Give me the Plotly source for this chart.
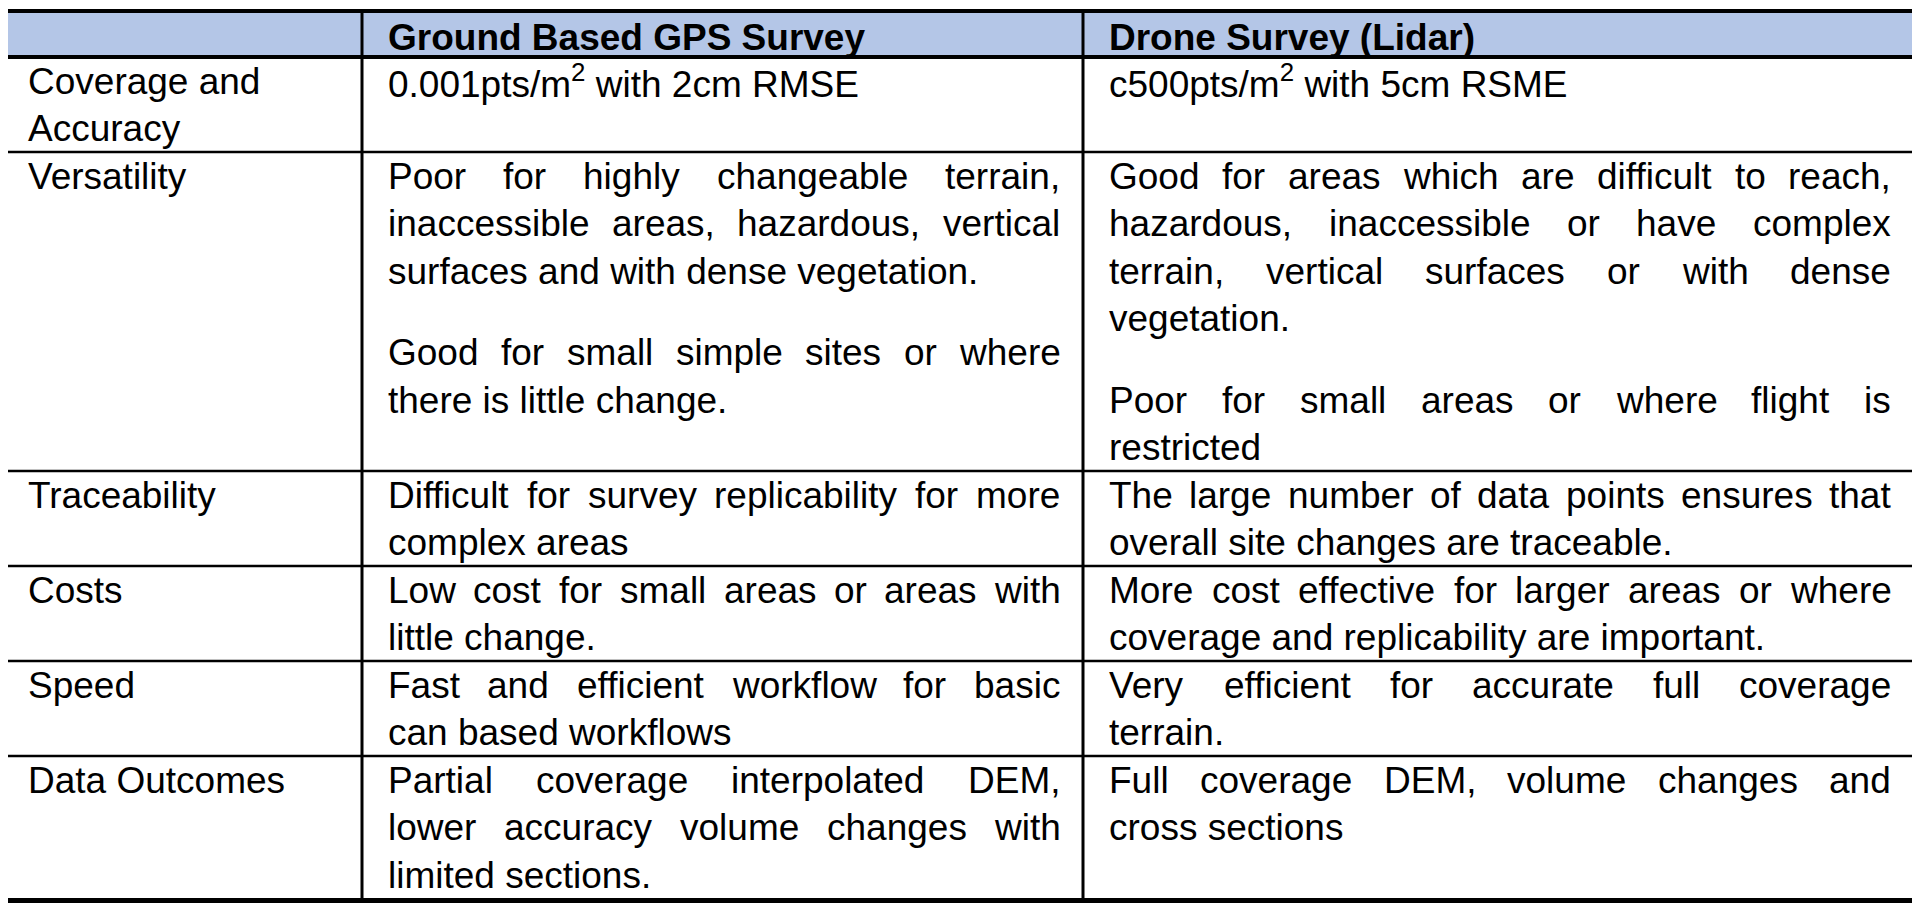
import plotly.graph_objects as go

HEADERS = ["", "Ground Based GPS Survey", "Drone Survey (Lidar)"]

CRITERIA = [
    [["Coverage and", "Accuracy"]],
    [["Versatility"]],
    [["Traceability"]],
    [["Costs"]],
    [["Speed"]],
    [["Data Outcomes"]],
]

GPS_SURVEY = [
    [["0.001pts/m<sup>2</sup> with 2cm RMSE"]],
    [["Poor for highly changeable terrain,",
      "inaccessible areas, hazardous, vertical",
      "surfaces and with dense vegetation."],
     ["Good for small simple sites or where",
      "there is little change."]],
    [["Difficult for survey replicability for more",
      "complex areas"]],
    [["Low cost for small areas or areas with",
      "little change."]],
    [["Fast and efficient workflow for basic",
      "can based workflows"]],
    [["Partial coverage interpolated DEM,",
      "lower accuracy volume changes with",
      "limited sections."]],
]

DRONE_SURVEY = [
    [["c500pts/m<sup>2</sup> with 5cm RSME"]],
    [["Good for areas which are difficult to reach,",
      "hazardous, inaccessible or have complex",
      "terrain, vertical surfaces or with dense",
      "vegetation."],
     ["Poor for small areas or where flight is",
      "restricted"]],
    [["The large number of data points ensures that",
      "overall site changes are traceable."]],
    [["More cost effective for larger areas or where",
      "coverage and replicability are important."]],
    [["Very efficient for accurate full coverage",
      "terrain."]],
    [["Full coverage DEM, volume changes and",
      "cross sections"]],
]

# advance widths of Arial / Liberation Sans, 1/1000 em
ARIAL = {' ': 278, ',': 278, '.': 278, '/': 278, '(': 333, ')': 333, '-': 333,
         'A': 667, 'B': 667, 'C': 722, 'D': 722, 'E': 667, 'F': 611, 'G': 778,
         'H': 722, 'I': 278, 'J': 500, 'K': 667, 'L': 556, 'M': 833, 'N': 722,
         'O': 778, 'P': 667, 'Q': 778, 'R': 722, 'S': 667, 'T': 611, 'U': 722,
         'V': 667, 'W': 944, 'X': 667, 'Y': 667, 'Z': 611,
         'a': 556, 'b': 556, 'c': 500, 'd': 556, 'e': 556, 'f': 278, 'g': 556,
         'h': 556, 'i': 222, 'j': 222, 'k': 500, 'l': 222, 'm': 833, 'n': 556,
         'o': 556, 'p': 556, 'q': 556, 'r': 333, 's': 500, 't': 278, 'u': 556,
         'v': 500, 'w': 722, 'x': 500, 'y': 500, 'z': 500}


def text_width(s, size):
    return sum(ARIAL.get(ch, 556) for ch in s) * size / 1000.0


def main():
    font_family = 'Liberation Sans, Arial, sans-serif'
    size = 37
    line_h = 47.5
    para_gap = 34
    base_off = 37
    pad_l, pad_r = 25, 24
    col_x = [2, 362, 1083, 1914]
    top = 11
    header_h = 46
    header_fill = '#B4C6E7'
    # the page body keeps its 8px margin, so the axes cover 8..1912 x 8..916
    page_margin = 8

    annotations = []

    def put(text, x, baseline):
        annotations.append(dict(
            x=x, y=baseline - 0.3465 * size, xref='x', yref='y',
            text=text, showarrow=False, xanchor='left', yanchor='middle',
            borderpad=0, font=dict(family=font_family, size=size, color='#000000')))

    body = list(zip(CRITERIA, GPS_SURVEY, DRONE_SURVEY))

    # row edges from the number of text lines in each row
    row_y = [top, top + header_h]
    for cells in body:
        need = [sum(len(p) for p in c) * line_h + (len(c) - 1) * para_gap for c in cells]
        row_y.append(row_y[-1] + max(need))
    row_y[-1] += 2

    # header
    for j, h in enumerate(HEADERS):
        if h:
            put('<b>' + h + '</b>', col_x[j] + pad_l, top + 39)

    # body cells, justified in the two survey columns
    for i, cells in enumerate(body):
        for j, cell in enumerate(cells):
            left = col_x[j] + pad_l
            right = col_x[j + 1] - pad_r
            base = row_y[i + 1] + base_off
            for p in cell:
                for k, line in enumerate(p):
                    last = k == len(p) - 1
                    words = line.split(' ')
                    if j == 0 or last or len(words) < 2:
                        put(line, left, base)
                    else:
                        ws = [text_width(w, size) for w in words]
                        gap = (right - left - sum(ws)) / (len(words) - 1)
                        x = left
                        for w, ww in zip(words, ws):
                            put(w, x, base)
                            x += ww + gap
                    base += line_h
                base += para_gap

    shapes = [dict(type='rect', xref='x', yref='y', x0=col_x[0], x1=col_x[-1],
                   y0=row_y[0], y1=row_y[1], fillcolor=header_fill, line_width=0, layer='below')]
    for i, y in enumerate(row_y):
        if i == 0 or i == 1:
            lw = 4
        elif i == len(row_y) - 1:
            lw = 5
        else:
            lw = 2.5
        shapes.append(dict(type='line', xref='x', yref='y', x0=col_x[0], x1=col_x[-1],
                           y0=y, y1=y, line=dict(color='#000000', width=lw)))
    for x in col_x:
        shapes.append(dict(type='line', xref='x', yref='y', x0=x, x1=x,
                           y0=row_y[0], y1=row_y[-1], line=dict(color='#000000', width=3)))

    fig = go.Figure()
    fig.update_layout(
        shapes=shapes,
        annotations=annotations,
        margin=dict(l=0, r=0, t=0, b=0),
        paper_bgcolor='white',
        plot_bgcolor='white',
        showlegend=False,
        xaxis=dict(range=[page_margin, 1920 - page_margin], visible=False, fixedrange=True),
        yaxis=dict(range=[924 - page_margin, page_margin], visible=False, fixedrange=True),
    )
    fig.write_html('out.html')


if __name__ == '__main__':
    main()
